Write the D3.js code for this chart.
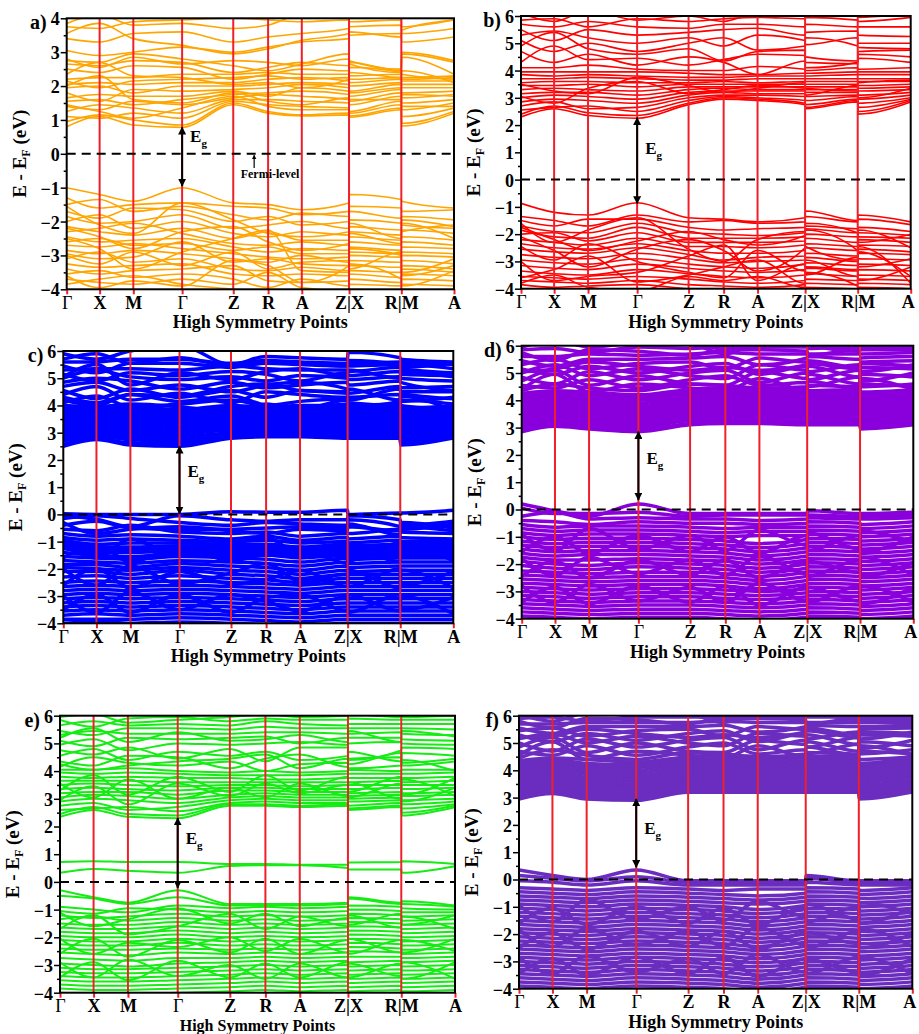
<!DOCTYPE html>
<html>
<head>
<meta charset="utf-8">
<script src="https://cdn.jsdelivr.net/npm/d3@7"></script>
<style>
  body { margin: 0; background: #fff; }
  svg { display: block; }
  text { font-family: "Liberation Serif", "Times New Roman", serif; font-weight: bold; fill: #000; }
</style>
</head>
<body>
<svg></svg>
<script>
// k-path: Γ X M Γ Z R A Z|X R|M A  (band values are given at 12 points: Γ X M Γ Z R A Z X R M A)
const kLabels = ["Γ", "X", "M", "Γ", "Z", "R", "A", "Z|X", "R|M", "A"];
const kTicks = [0, 0.085, 0.172, 0.298, 0.430, 0.520, 0.607, 0.729, 0.864, 1];
const kPath = [0, 0.085, 0.172, 0.298, 0.430, 0.520, 0.607, 0.729, 0.729, 0.864, 0.864, 1];

// a) orange
const aCond = [
  [0.80, 1.10, 0.85, 0.78, 1.45, 1.20, 1.12, 1.15, 1.08, 1.30, 0.82, 1.20],
  [0.95, 1.15, 1.00, 0.85, 1.50, 1.25, 1.15, 1.20, 1.12, 1.35, 0.90, 1.25],
  [1.10, 1.05, 1.20, 1.05, 1.55, 1.45, 1.40, 1.35, 1.25, 1.55, 1.10, 1.35],
  [1.25, 1.45, 1.35, 1.20, 1.60, 1.60, 1.55, 1.50, 1.45, 1.70, 1.30, 1.50],
  [1.40, 1.30, 1.55, 1.45, 1.65, 1.75, 1.70, 1.60, 1.55, 1.80, 1.50, 1.60],
  [1.55, 1.60, 1.45, 1.60, 1.75, 1.80, 1.85, 1.75, 1.70, 1.90, 1.65, 1.75],
  [1.65, 1.75, 1.70, 1.70, 1.85, 1.70, 1.95, 1.85, 1.80, 1.95, 1.80, 1.85],
  [1.80, 1.55, 1.90, 1.85, 1.90, 1.95, 2.05, 1.95, 1.85, 2.05, 1.95, 1.95],
  [1.95, 2.00, 1.80, 2.00, 2.00, 2.05, 2.10, 2.05, 2.00, 2.10, 2.05, 2.05],
  [2.05, 2.10, 2.05, 2.10, 2.10, 2.20, 2.25, 2.15, 2.10, 2.20, 2.15, 2.15],
  [2.15, 1.95, 2.15, 2.20, 2.25, 2.30, 2.20, 2.25, 2.20, 2.25, 2.20, 2.25],
  [2.20, 2.25, 2.25, 2.35, 2.35, 2.40, 2.35, 2.35, 2.30, 2.35, 2.25, 2.30],
  [2.50, 2.40, 2.60, 2.55, 2.20, 2.35, 2.50, 2.45, 2.55, 2.40, 2.35, 2.20],
  [2.65, 2.60, 2.75, 2.70, 2.40, 2.55, 2.70, 2.60, 2.70, 2.45, 2.95, 2.70],
  [2.75, 2.70, 2.95, 2.80, 2.60, 2.45, 2.65, 2.95, 2.75, 2.50, 3.00, 2.75],
  [2.80, 2.55, 2.85, 2.65, 2.75, 2.70, 2.60, 2.80, 2.65, 2.40, 2.85, 2.35],
  [3.05, 2.90, 3.00, 3.15, 3.00, 3.15, 3.30, 3.40, 3.50, 3.55, 3.30, 3.45],
  [3.40, 3.30, 3.55, 3.60, 3.30, 3.45, 3.55, 3.70, 3.75, 3.80, 3.55, 3.70],
  [3.55, 3.85, 3.40, 3.20, 2.95, 3.10, 3.35, 3.55, 3.60, 3.45, 3.65, 3.95],
  [3.75, 3.70, 3.90, 3.95, 4.00, 3.95, 3.90, 3.95, 3.90, 3.95, 3.75, 3.95],
  [3.85, 4.10, 3.80, 3.85, 3.70, 3.80, 4.10, 4.10, 4.05, 4.10, 4.00, 4.10],
  [1.45, 1.25, 1.05, 1.35, 1.70, 1.40, 1.30, 1.30, 1.20, 1.45, 1.40, 1.40],
  [2.00, 2.30, 1.60, 1.50, 1.80, 1.55, 1.45, 1.65, 1.60, 1.60, 1.75, 1.70],
  [2.35, 2.70, 2.30, 2.25, 2.05, 2.10, 1.95, 2.20, 2.40, 2.25, 2.45, 2.10]
];
const aVal = [
  [-1.00, -1.20, -1.40, -1.00, -1.45, -1.50, -1.65, -1.45, -1.20, -1.35, -1.40, -1.60],
  [-1.30, -1.60, -1.50, -1.45, -1.55, -1.60, -1.80, -1.70, -1.55, -1.60, -1.70, -1.65],
  [-1.50, -1.35, -1.70, -1.55, -1.80, -1.95, -1.75, -1.85, -1.70, -1.90, -1.85, -1.95],
  [-1.70, -1.90, -1.60, -1.65, -2.00, -1.85, -2.10, -2.00, -1.95, -2.05, -2.10, -2.20],
  [-1.85, -2.05, -2.00, -1.80, -2.20, -2.10, -2.00, -2.20, -2.15, -2.25, -1.95, -2.15],
  [-2.00, -1.80, -2.20, -2.00, -2.35, -2.45, -2.30, -2.40, -2.30, -2.40, -2.25, -2.35],
  [-2.15, -2.30, -2.40, -2.20, -2.50, -2.30, -2.55, -2.55, -2.45, -2.55, -2.45, -2.55],
  [-2.30, -2.20, -2.05, -2.35, -2.65, -2.70, -2.60, -2.70, -2.60, -2.70, -2.60, -2.70],
  [-2.45, -2.60, -2.55, -2.50, -2.75, -2.90, -2.80, -2.85, -2.75, -2.85, -2.75, -2.80],
  [-2.60, -2.50, -2.70, -2.65, -2.85, -2.75, -2.95, -2.95, -2.90, -2.95, -2.90, -2.95],
  [-2.70, -2.75, -2.65, -2.80, -2.95, -3.05, -3.10, -3.05, -3.00, -3.05, -3.00, -3.05],
  [-2.85, -2.95, -2.85, -2.95, -3.10, -3.20, -3.00, -3.20, -3.15, -3.20, -3.15, -3.25],
  [-2.95, -3.10, -3.05, -2.60, -3.20, -3.10, -3.25, -3.30, -3.30, -3.35, -3.30, -3.40],
  [-3.10, -2.90, -3.20, -3.10, -3.40, -3.45, -3.35, -3.45, -3.45, -3.50, -3.40, -3.50],
  [-3.25, -3.35, -3.30, -3.25, -3.55, -3.60, -3.55, -3.60, -3.55, -3.65, -3.55, -3.60],
  [-3.40, -3.55, -3.45, -3.40, -3.30, -3.75, -3.80, -3.75, -3.70, -3.80, -3.70, -3.75],
  [-3.55, -3.45, -3.65, -3.55, -3.70, -3.95, -3.70, -3.90, -3.85, -3.90, -3.85, -3.90],
  [-3.70, -3.80, -3.85, -3.70, -3.85, -3.50, -3.95, -4.05, -4.00, -4.05, -4.00, -4.10],
  [-3.85, -3.70, -3.60, -3.85, -4.00, -4.10, -4.20, -4.20, -4.10, -4.20, -4.15, -4.20],
  [-1.55, -2.10, -2.35, -1.45, -1.95, -2.35, -2.45, -2.30, -2.05, -2.50, -2.30, -2.10],
  [-2.20, -2.45, -2.80, -2.30, -2.15, -2.60, -2.85, -2.65, -2.35, -2.65, -2.05, -2.50],
  [-2.50, -2.80, -3.40, -2.90, -2.50, -2.25, -3.45, -3.50, -2.80, -3.00, -3.50, -3.10],
  [-3.00, -3.25, -2.90, -3.30, -2.90, -3.40, -3.20, -3.15, -3.40, -2.90, -3.60, -3.30],
  [-3.60, -3.95, -3.75, -3.90, -3.15, -3.30, -3.80, -3.30, -3.25, -3.70, -3.90, -3.45]
];

// b) red
const bCond = [
  [2.30, 2.60, 2.35, 2.25, 2.75, 2.95, 2.90, 2.75, 2.60, 2.85, 2.40, 2.85],
  [2.40, 2.70, 2.45, 2.35, 2.80, 3.00, 2.95, 2.80, 2.65, 2.90, 2.50, 2.90],
  [2.55, 2.65, 2.70, 2.50, 2.90, 3.05, 3.00, 2.90, 2.75, 2.95, 2.65, 2.95],
  [2.70, 2.85, 2.60, 2.65, 3.00, 3.10, 3.10, 3.05, 2.90, 3.05, 2.80, 3.00],
  [2.85, 2.95, 2.90, 2.80, 3.10, 3.20, 3.15, 3.15, 3.05, 3.10, 2.95, 3.10],
  [3.00, 3.10, 3.05, 2.95, 3.20, 3.25, 3.25, 3.25, 3.20, 3.20, 3.10, 3.20],
  [3.15, 3.20, 3.20, 3.10, 3.30, 3.35, 3.30, 3.30, 3.30, 3.30, 3.25, 3.30],
  [3.30, 3.35, 3.30, 3.25, 3.40, 3.40, 3.40, 3.40, 3.40, 3.40, 3.35, 3.40],
  [3.45, 3.45, 3.50, 3.40, 3.50, 3.50, 3.50, 3.50, 3.50, 3.50, 3.45, 3.50],
  [3.55, 3.60, 3.60, 3.55, 3.55, 3.60, 3.55, 3.60, 3.60, 3.60, 3.60, 3.60],
  [3.70, 3.70, 3.75, 3.70, 3.65, 3.65, 3.70, 3.70, 3.70, 3.70, 3.70, 3.70],
  [3.85, 3.80, 3.85, 3.80, 3.75, 3.75, 3.80, 3.80, 3.80, 3.85, 3.85, 3.85],
  [3.95, 3.95, 3.95, 3.95, 3.90, 3.85, 3.85, 3.90, 3.90, 3.95, 3.95, 3.95],
  [3.05, 2.80, 3.35, 3.60, 3.15, 3.30, 3.45, 3.35, 3.10, 3.45, 3.00, 3.35],
  [3.50, 3.25, 3.15, 3.75, 3.45, 3.20, 3.35, 3.55, 3.35, 3.25, 3.55, 3.65],
  [4.70, 4.30, 4.60, 4.20, 4.50, 4.30, 3.85, 4.35, 4.10, 4.30, 4.60, 4.50],
  [4.90, 5.40, 4.80, 4.60, 4.80, 4.35, 4.70, 4.75, 4.50, 4.35, 4.70, 4.75],
  [5.10, 4.70, 5.00, 4.70, 5.00, 5.20, 4.75, 4.90, 5.20, 4.90, 4.85, 4.80],
  [5.30, 5.45, 5.20, 5.00, 5.20, 4.90, 5.30, 5.10, 4.95, 5.20, 5.00, 5.00],
  [5.50, 5.10, 5.50, 5.30, 5.40, 5.50, 5.55, 5.30, 5.40, 5.45, 5.30, 5.25],
  [5.70, 5.60, 5.80, 5.60, 5.55, 5.70, 5.70, 5.60, 5.70, 5.60, 5.60, 5.60],
  [5.85, 5.90, 5.60, 5.90, 5.80, 5.90, 5.95, 5.90, 5.95, 5.85, 5.80, 5.95],
  [4.30, 4.90, 4.40, 4.45, 4.20, 4.40, 4.60, 4.55, 4.30, 4.25, 4.45, 4.30],
  [6.10, 5.80, 6.20, 5.85, 6.00, 5.80, 6.10, 6.10, 6.00, 6.10, 5.95, 6.10],
  [4.10, 4.10, 4.20, 4.05, 4.00, 4.00, 4.15, 4.05, 4.00, 4.10, 4.05, 4.10]
];
const bVal = [
  [-0.87, -1.20, -1.30, -0.85, -1.40, -1.45, -1.55, -1.40, -1.15, -1.50, -1.30, -1.55],
  [-1.35, -1.50, -1.70, -1.30, -1.55, -1.50, -1.60, -1.55, -1.35, -1.55, -1.45, -1.65],
  [-1.50, -1.70, -1.45, -1.45, -1.75, -1.85, -1.80, -1.75, -1.70, -1.80, -1.75, -1.90],
  [-1.70, -1.90, -1.95, -1.60, -1.95, -2.00, -2.05, -1.95, -1.80, -1.95, -1.95, -2.05],
  [-1.85, -2.10, -2.15, -1.75, -2.15, -2.15, -2.15, -2.10, -2.00, -2.10, -2.10, -2.15],
  [-2.00, -1.95, -2.25, -1.95, -2.30, -2.30, -2.30, -2.25, -2.15, -2.30, -2.20, -2.30],
  [-2.20, -2.30, -2.40, -2.15, -2.45, -2.45, -2.50, -2.40, -2.35, -2.45, -2.40, -2.45],
  [-2.35, -2.50, -2.55, -2.35, -2.60, -2.70, -2.70, -2.60, -2.50, -2.60, -2.55, -2.65],
  [-2.55, -2.65, -2.70, -2.50, -2.75, -2.95, -2.85, -2.80, -2.70, -2.80, -2.70, -2.75],
  [-2.75, -2.85, -2.90, -2.70, -2.90, -3.05, -3.00, -2.95, -2.85, -3.00, -2.90, -2.95],
  [-2.95, -3.05, -3.10, -2.90, -3.10, -3.20, -3.25, -3.10, -3.05, -3.15, -3.10, -3.15],
  [-3.15, -3.25, -3.30, -3.10, -3.25, -3.35, -3.40, -3.30, -3.25, -3.35, -3.30, -3.35],
  [-3.35, -3.45, -3.50, -3.30, -3.45, -3.55, -3.60, -3.50, -3.45, -3.55, -3.50, -3.55],
  [-3.55, -3.60, -3.65, -3.55, -3.65, -3.75, -3.80, -3.70, -3.65, -3.70, -3.65, -3.70],
  [-3.70, -3.75, -3.80, -3.70, -3.85, -3.90, -3.95, -3.85, -3.80, -3.85, -3.80, -3.85],
  [-3.85, -3.95, -3.90, -3.85, -4.00, -4.05, -4.10, -4.00, -3.95, -4.00, -3.95, -4.00],
  [-1.60, -2.30, -1.85, -1.40, -2.55, -3.00, -2.20, -1.90, -2.45, -2.95, -1.85, -2.50],
  [-2.10, -2.60, -3.20, -2.55, -2.20, -2.60, -3.35, -2.50, -1.85, -2.60, -3.20, -2.90],
  [-2.45, -2.95, -2.35, -3.00, -3.40, -3.60, -2.60, -3.35, -2.95, -3.55, -2.65, -3.55],
  [-3.00, -3.70, -3.55, -3.40, -2.80, -2.40, -3.70, -3.10, -3.50, -2.85, -3.70, -3.20],
  [-3.60, -3.30, -2.80, -3.75, -3.50, -3.20, -2.95, -3.80, -3.20, -3.30, -2.45, -3.80],
  [-1.75, -2.20, -2.60, -2.25, -1.90, -2.20, -2.40, -2.05, -1.60, -1.95, -2.30, -2.00],
  [-3.80, -3.50, -3.95, -4.10, -3.55, -3.70, -3.55, -3.95, -3.40, -3.90, -3.95, -4.10]
];

// c) blue
const cCond = [
  [2.50, 2.75, 2.55, 2.50, 2.80, 2.85, 2.85, 2.80, 2.80, 2.80, 2.55, 2.80],
  [2.58, 2.80, 2.62, 2.58, 2.85, 2.90, 2.90, 2.85, 2.85, 2.85, 2.62, 2.85],
  [2.70, 2.85, 2.75, 2.65, 2.90, 2.95, 2.95, 2.90, 2.90, 2.90, 2.70, 2.90],
  [2.80, 2.90, 2.85, 2.75, 2.95, 3.00, 3.00, 2.95, 2.95, 2.95, 2.80, 2.95],
  [2.90, 3.00, 2.95, 2.85, 3.00, 3.05, 3.05, 3.00, 3.00, 3.05, 2.90, 3.00],
  [3.00, 3.10, 3.05, 2.95, 3.10, 3.10, 3.15, 3.10, 3.10, 3.10, 3.00, 3.10],
  [3.10, 3.20, 3.15, 3.05, 3.20, 3.20, 3.20, 3.20, 3.15, 3.20, 3.10, 3.20],
  [3.20, 3.30, 3.25, 3.15, 3.30, 3.30, 3.30, 3.30, 3.25, 3.30, 3.20, 3.30],
  [3.30, 3.35, 3.35, 3.25, 3.40, 3.35, 3.40, 3.40, 3.35, 3.40, 3.30, 3.40],
  [3.40, 3.45, 3.45, 3.35, 3.50, 3.45, 3.50, 3.50, 3.45, 3.50, 3.40, 3.50],
  [3.50, 3.55, 3.55, 3.45, 3.60, 3.55, 3.60, 3.60, 3.55, 3.60, 3.50, 3.60],
  [3.60, 3.65, 3.65, 3.55, 3.70, 3.65, 3.70, 3.70, 3.65, 3.70, 3.60, 3.70],
  [3.70, 3.75, 3.75, 3.65, 3.80, 3.75, 3.80, 3.80, 3.75, 3.80, 3.70, 3.80],
  [3.80, 3.85, 3.85, 3.75, 3.90, 3.85, 3.90, 3.90, 3.85, 3.90, 3.80, 3.90],
  [3.90, 3.95, 3.95, 3.85, 4.00, 3.95, 4.00, 4.00, 3.95, 4.00, 3.90, 4.00],
  [4.00, 3.95, 4.05, 3.95, 3.75, 4.05, 3.85, 4.05, 4.00, 4.05, 4.00, 3.85],
  [2.95, 3.40, 2.70, 3.50, 3.05, 3.60, 3.25, 3.45, 3.10, 3.55, 3.20, 3.40],
  [3.55, 3.05, 3.60, 2.90, 3.55, 3.05, 3.70, 3.10, 3.50, 2.95, 3.55, 3.15],
  [3.25, 3.70, 3.10, 3.75, 3.20, 3.80, 3.10, 3.75, 3.20, 3.75, 3.05, 3.65],
  [4.20, 4.00, 4.40, 4.15, 4.35, 4.00, 3.85, 4.20, 3.95, 4.15, 4.35, 3.80],
  [4.40, 4.70, 4.20, 4.45, 4.10, 4.50, 4.40, 4.30, 4.30, 4.40, 4.15, 4.30],
  [4.55, 4.25, 4.60, 4.30, 4.55, 4.30, 4.55, 4.45, 4.60, 4.20, 4.50, 4.50],
  [4.70, 4.85, 4.55, 4.75, 4.50, 4.75, 4.85, 4.60, 4.45, 4.70, 4.65, 4.70],
  [4.85, 5.00, 4.90, 4.60, 4.85, 4.65, 4.75, 4.85, 4.75, 4.90, 4.85, 4.55],
  [5.00, 5.30, 5.05, 4.95, 5.05, 4.90, 5.10, 5.00, 4.95, 5.05, 5.00, 4.90],
  [5.15, 4.90, 5.20, 5.10, 5.25, 5.15, 4.90, 5.20, 5.10, 5.25, 5.15, 5.10],
  [5.30, 5.35, 5.35, 5.30, 5.45, 5.35, 5.30, 5.30, 5.25, 5.40, 5.35, 5.20],
  [5.45, 5.20, 5.55, 5.55, 5.40, 5.55, 5.50, 5.45, 5.45, 5.50, 5.50, 5.35],
  [5.60, 5.60, 5.70, 5.70, 5.55, 5.65, 5.60, 5.55, 5.55, 5.60, 5.60, 5.50],
  [5.70, 5.90, 5.55, 5.75, 5.45, 5.60, 5.55, 5.45, 5.65, 5.50, 5.40, 5.55],
  [5.90, 5.70, 6.00, 6.20, 5.50, 5.80, 5.75, 5.70, 5.95, 5.75, 5.70, 5.60],
  [4.10, 4.35, 3.95, 4.05, 4.20, 4.00, 4.15, 4.25, 4.10, 4.00, 4.20, 4.05],
  [4.30, 4.10, 4.40, 4.35, 4.70, 4.80, 4.55, 4.50, 4.20, 4.60, 4.45, 4.25],
  [5.05, 5.50, 4.75, 5.20, 4.95, 5.25, 5.35, 5.10, 5.30, 5.00, 5.25, 5.05]
];
const cVal = [
  [0.02, 0.00, 0.00, 0.00, 0.10, 0.08, 0.08, 0.15, 0.00, 0.05, 0.05, 0.15],
  [-0.05, -0.18, -0.45, -0.05, -0.20, -0.25, -0.20, -0.20, -0.05, -0.20, -0.40, -0.25],
  [-0.15, -0.05, -0.15, -0.30, -0.40, -0.30, -0.35, -0.40, -0.20, -0.45, -0.55, -0.35],
  [-0.40, -0.25, -0.50, -0.55, -0.55, -0.50, -0.45, -0.50, -0.45, -0.60, -0.30, -0.50],
  [-0.55, -0.60, -0.40, -0.65, -0.70, -0.65, -0.80, -0.70, -0.70, -0.55, -0.65, -0.70],
  [-0.70, -0.80, -0.75, -0.80, -0.90, -0.80, -0.95, -0.85, -0.90, -0.80, -0.85, -0.90],
  [-0.85, -0.95, -0.90, -0.95, -1.00, -0.95, -1.05, -1.00, -1.05, -0.95, -1.00, -1.00],
  [-0.95, -1.10, -1.05, -1.05, -1.10, -1.10, -1.20, -1.10, -1.15, -1.10, -1.10, -1.10],
  [-1.05, -1.20, -1.20, -1.15, -1.20, -1.20, -1.30, -1.20, -1.25, -1.20, -1.20, -1.20],
  [-1.15, -1.30, -1.30, -1.25, -1.30, -1.30, -1.40, -1.30, -1.35, -1.30, -1.30, -1.30],
  [-1.25, -1.40, -1.40, -1.35, -1.40, -1.40, -1.50, -1.40, -1.45, -1.40, -1.40, -1.40],
  [-1.40, -1.50, -1.55, -1.45, -1.50, -1.50, -1.60, -1.50, -1.55, -1.50, -1.50, -1.50],
  [-1.55, -1.60, -1.65, -1.55, -1.60, -1.65, -1.75, -1.60, -1.65, -1.60, -1.60, -1.60],
  [-1.70, -1.75, -1.80, -1.70, -1.75, -1.80, -1.90, -1.75, -1.80, -1.75, -1.75, -1.75],
  [-1.85, -1.85, -1.95, -1.80, -1.90, -1.95, -2.05, -1.90, -1.95, -1.90, -1.90, -1.90],
  [-1.95, -2.00, -2.05, -1.95, -2.05, -2.10, -2.20, -2.05, -2.10, -2.05, -2.05, -2.05],
  [-2.10, -2.10, -2.20, -2.05, -2.20, -2.25, -2.35, -2.20, -2.20, -2.20, -2.20, -2.20],
  [-2.30, -2.25, -2.35, -2.25, -2.35, -2.40, -2.50, -2.35, -2.35, -2.35, -2.35, -2.35],
  [-2.50, -2.45, -2.50, -2.45, -2.50, -2.55, -2.60, -2.50, -2.50, -2.50, -2.50, -2.50],
  [-2.65, -2.60, -2.65, -2.60, -2.65, -2.70, -2.75, -2.65, -2.65, -2.65, -2.65, -2.65],
  [-2.80, -2.75, -2.80, -2.75, -2.80, -2.85, -2.90, -2.80, -2.80, -2.80, -2.80, -2.80],
  [-2.95, -2.90, -2.95, -2.90, -2.95, -3.00, -3.05, -2.95, -2.95, -2.95, -2.95, -2.95],
  [-3.10, -3.05, -3.10, -3.05, -3.10, -3.15, -3.20, -3.10, -3.10, -3.10, -3.10, -3.10],
  [-3.25, -3.20, -3.25, -3.20, -3.25, -3.30, -3.35, -3.25, -3.25, -3.25, -3.25, -3.25],
  [-3.40, -3.35, -3.40, -3.35, -3.40, -3.45, -3.50, -3.40, -3.40, -3.40, -3.40, -3.40],
  [-3.55, -3.50, -3.55, -3.50, -3.55, -3.60, -3.65, -3.55, -3.55, -3.55, -3.55, -3.55],
  [-3.70, -3.65, -3.70, -3.65, -3.70, -3.75, -3.80, -3.70, -3.70, -3.70, -3.70, -3.70],
  [-3.85, -3.85, -3.85, -3.80, -3.85, -3.90, -3.95, -3.85, -3.85, -3.85, -3.85, -3.85],
  [-4.00, -3.95, -4.00, -3.95, -4.00, -4.05, -4.10, -4.00, -4.00, -4.00, -4.00, -4.00],
  [-1.00, -1.60, -0.90, -1.55, -1.10, -0.85, -1.45, -1.15, -1.70, -1.05, -1.55, -0.95],
  [-1.60, -1.10, -1.75, -1.20, -1.70, -1.45, -1.20, -1.80, -1.15, -1.75, -1.15, -1.70],
  [-2.00, -2.60, -1.90, -2.55, -2.15, -1.80, -2.45, -2.20, -2.65, -2.00, -2.60, -2.10],
  [-2.60, -2.00, -2.70, -2.10, -2.55, -2.40, -2.05, -2.65, -2.05, -2.70, -2.05, -2.70],
  [-3.00, -3.60, -2.85, -3.50, -2.95, -3.20, -3.55, -3.00, -3.60, -2.95, -3.50, -3.05],
  [-3.50, -2.95, -3.60, -2.95, -3.60, -3.05, -2.95, -3.55, -2.95, -3.55, -3.00, -3.65],
  [-0.30, -0.70, -0.55, -0.45, -0.60, -0.70, -0.55, -0.60, -0.35, -0.75, -0.45, -0.60]
];

// d) violet
const dCond = [
  [2.85, 3.05, 2.95, 2.85, 3.10, 3.15, 3.15, 3.10, 3.10, 3.10, 2.95, 3.10],
  [2.95, 3.10, 3.00, 2.92, 3.15, 3.20, 3.20, 3.15, 3.15, 3.15, 3.02, 3.15],
  [3.05, 3.20, 3.10, 3.00, 3.25, 3.25, 3.25, 3.25, 3.20, 3.25, 3.10, 3.25],
  [3.15, 3.30, 3.20, 3.10, 3.35, 3.35, 3.35, 3.35, 3.30, 3.35, 3.20, 3.35],
  [3.25, 3.40, 3.30, 3.20, 3.45, 3.45, 3.45, 3.45, 3.40, 3.45, 3.30, 3.45],
  [3.35, 3.50, 3.40, 3.30, 3.55, 3.55, 3.55, 3.55, 3.50, 3.55, 3.40, 3.55],
  [3.45, 3.60, 3.50, 3.40, 3.65, 3.65, 3.65, 3.65, 3.60, 3.65, 3.50, 3.65],
  [3.55, 3.70, 3.60, 3.50, 3.75, 3.75, 3.75, 3.75, 3.70, 3.75, 3.60, 3.75],
  [3.65, 3.80, 3.70, 3.60, 3.85, 3.85, 3.85, 3.85, 3.80, 3.85, 3.70, 3.85],
  [3.75, 3.90, 3.80, 3.70, 3.95, 3.95, 3.95, 3.95, 3.90, 3.95, 3.80, 3.95],
  [3.85, 4.00, 3.90, 3.80, 4.05, 4.05, 4.05, 4.05, 4.00, 4.05, 3.90, 4.05],
  [3.95, 4.10, 4.00, 3.90, 4.15, 4.15, 4.15, 4.15, 4.10, 4.15, 4.00, 4.15],
  [4.05, 4.20, 4.10, 4.00, 4.25, 4.25, 4.25, 4.25, 4.20, 4.25, 4.10, 4.25],
  [4.15, 4.30, 4.20, 4.10, 4.30, 4.35, 4.35, 4.30, 4.30, 4.35, 4.20, 4.35],
  [4.25, 4.35, 4.30, 4.20, 4.40, 4.45, 4.40, 4.40, 4.35, 4.40, 4.30, 4.40],
  [3.30, 3.80, 3.10, 3.85, 3.35, 3.90, 3.40, 3.80, 3.35, 3.90, 3.25, 3.80],
  [3.90, 3.40, 3.95, 3.25, 3.90, 3.40, 4.00, 3.45, 3.95, 3.30, 3.95, 3.40],
  [3.60, 4.15, 3.50, 4.10, 3.55, 4.20, 3.60, 4.20, 3.55, 4.10, 3.45, 4.20],
  [4.40, 4.95, 4.30, 4.60, 4.45, 4.35, 4.80, 4.35, 4.70, 4.40, 4.80, 4.40],
  [4.55, 4.45, 4.75, 4.45, 4.75, 4.90, 4.55, 4.65, 4.50, 4.85, 4.50, 4.60],
  [4.70, 5.10, 4.55, 4.90, 4.60, 4.55, 5.05, 4.80, 4.95, 4.60, 4.95, 4.85],
  [4.85, 4.60, 5.05, 4.75, 5.00, 5.10, 4.65, 5.00, 4.75, 5.10, 4.70, 5.00],
  [5.00, 5.30, 4.90, 5.15, 4.90, 4.80, 5.30, 5.10, 5.25, 4.85, 5.20, 5.15],
  [5.15, 4.95, 5.25, 5.00, 5.25, 5.35, 4.95, 5.25, 5.05, 5.30, 5.05, 5.30],
  [5.30, 5.50, 5.15, 5.35, 5.40, 5.15, 5.55, 5.40, 5.45, 5.20, 5.40, 5.45],
  [5.45, 5.25, 5.50, 5.50, 5.55, 5.60, 5.30, 5.55, 5.60, 5.50, 5.55, 5.60],
  [5.60, 5.60, 5.70, 5.65, 5.70, 5.75, 5.70, 5.70, 5.70, 5.70, 5.70, 5.75],
  [5.75, 5.45, 5.85, 5.80, 5.65, 5.85, 5.85, 5.80, 5.65, 5.85, 5.85, 5.85],
  [5.85, 5.90, 5.75, 5.95, 5.90, 5.95, 5.95, 5.95, 5.90, 5.95, 5.95, 5.95],
  [5.95, 6.20, 5.95, 6.10, 6.05, 5.70, 6.10, 6.10, 6.05, 5.80, 6.10, 6.10],
  [4.35, 4.60, 4.45, 4.35, 4.60, 4.55, 4.45, 4.50, 4.55, 4.50, 4.60, 4.50],
  [5.05, 5.15, 5.40, 5.25, 5.10, 5.20, 5.10, 5.30, 5.35, 5.15, 5.35, 5.25]
];
const dVal = [
  [0.20, -0.05, -0.25, 0.20, -0.15, -0.15, -0.15, -0.15, -0.05, -0.15, -0.15, -0.10],
  [0.05, -0.15, -0.15, -0.10, -0.25, -0.20, -0.20, -0.20, -0.20, -0.25, -0.25, -0.20],
  [-0.25, -0.10, -0.35, -0.30, -0.35, -0.35, -0.40, -0.35, -0.30, -0.35, -0.35, -0.30],
  [-0.40, -0.45, -0.55, -0.45, -0.50, -0.50, -0.55, -0.50, -0.45, -0.50, -0.55, -0.45],
  [-0.55, -0.65, -0.60, -0.60, -0.65, -0.70, -0.65, -0.65, -0.60, -0.65, -0.70, -0.60],
  [-0.70, -0.80, -0.75, -0.75, -0.80, -0.85, -0.80, -0.80, -0.75, -0.80, -0.85, -0.75],
  [-0.85, -0.95, -0.90, -0.90, -0.95, -1.00, -0.95, -0.95, -0.90, -0.95, -1.00, -0.90],
  [-1.00, -1.10, -1.05, -1.05, -1.10, -1.15, -1.25, -1.10, -1.05, -1.10, -1.15, -1.05],
  [-1.15, -1.25, -1.20, -1.20, -1.25, -1.30, -1.40, -1.25, -1.20, -1.25, -1.30, -1.20],
  [-1.30, -1.40, -1.35, -1.35, -1.40, -1.45, -1.55, -1.40, -1.35, -1.40, -1.45, -1.35],
  [-1.45, -1.55, -1.50, -1.50, -1.55, -1.60, -1.70, -1.55, -1.50, -1.55, -1.60, -1.50],
  [-1.60, -1.70, -1.65, -1.65, -1.70, -1.75, -1.85, -1.70, -1.65, -1.70, -1.75, -1.65],
  [-1.75, -1.85, -1.85, -1.80, -1.85, -1.90, -2.00, -1.85, -1.80, -1.85, -1.90, -1.80],
  [-1.90, -2.00, -2.05, -1.95, -2.00, -2.05, -2.15, -2.00, -1.95, -2.00, -2.05, -1.95],
  [-2.05, -2.15, -2.20, -2.10, -2.15, -2.20, -2.30, -2.15, -2.10, -2.15, -2.20, -2.10],
  [-2.25, -2.30, -2.35, -2.30, -2.30, -2.35, -2.45, -2.30, -2.25, -2.30, -2.35, -2.25],
  [-2.40, -2.45, -2.50, -2.45, -2.45, -2.50, -2.60, -2.45, -2.40, -2.45, -2.50, -2.40],
  [-2.55, -2.60, -2.65, -2.60, -2.60, -2.65, -2.75, -2.60, -2.55, -2.60, -2.65, -2.55],
  [-2.70, -2.75, -2.80, -2.75, -2.75, -2.80, -2.90, -2.75, -2.70, -2.75, -2.80, -2.70],
  [-2.85, -2.90, -2.95, -2.90, -2.90, -2.95, -3.00, -2.90, -2.85, -2.90, -2.95, -2.85],
  [-3.00, -3.05, -3.10, -3.05, -3.05, -3.10, -3.15, -3.05, -3.00, -3.05, -3.10, -3.00],
  [-3.15, -3.20, -3.25, -3.20, -3.20, -3.25, -3.30, -3.20, -3.15, -3.20, -3.25, -3.15],
  [-3.30, -3.35, -3.40, -3.35, -3.35, -3.40, -3.45, -3.35, -3.30, -3.35, -3.40, -3.30],
  [-3.45, -3.50, -3.55, -3.50, -3.50, -3.55, -3.60, -3.50, -3.45, -3.50, -3.55, -3.45],
  [-3.60, -3.65, -3.70, -3.65, -3.65, -3.70, -3.75, -3.65, -3.60, -3.65, -3.70, -3.60],
  [-3.75, -3.80, -3.85, -3.80, -3.80, -3.85, -3.90, -3.80, -3.75, -3.80, -3.85, -3.75],
  [-3.90, -3.95, -4.00, -3.95, -3.95, -4.00, -4.05, -3.95, -3.90, -3.95, -4.00, -3.90],
  [-0.90, -1.50, -0.70, -1.45, -0.95, -1.50, -0.75, -1.30, -0.85, -1.45, -0.80, -1.20],
  [-1.55, -1.00, -1.60, -0.95, -1.55, -1.00, -1.60, -0.95, -1.50, -0.95, -1.55, -1.00],
  [-1.80, -2.40, -1.75, -2.35, -1.85, -2.40, -1.70, -2.35, -1.90, -2.30, -1.75, -2.40],
  [-2.45, -1.90, -2.50, -1.85, -2.40, -1.85, -2.50, -1.90, -2.45, -1.85, -2.45, -1.95],
  [-2.80, -3.40, -2.75, -3.35, -2.85, -3.40, -2.70, -3.35, -2.85, -3.35, -2.80, -3.40],
  [-3.40, -2.85, -3.45, -2.80, -3.40, -2.80, -3.50, -2.85, -3.40, -2.80, -3.45, -2.85]
];

// e) green
const eCond = [
  [2.35, 2.60, 2.35, 2.30, 2.75, 2.75, 2.70, 2.75, 2.60, 2.70, 2.40, 2.70],
  [2.45, 2.70, 2.45, 2.40, 2.80, 2.80, 2.75, 2.80, 2.65, 2.75, 2.50, 2.75],
  [2.60, 2.65, 2.70, 2.55, 2.85, 2.90, 2.85, 2.85, 2.75, 2.85, 2.65, 2.80],
  [2.75, 2.85, 2.60, 2.70, 2.95, 3.00, 2.95, 2.95, 2.90, 2.95, 2.80, 2.90],
  [2.90, 3.00, 2.95, 2.85, 3.05, 3.10, 3.05, 3.05, 3.00, 3.05, 2.95, 3.00],
  [3.05, 3.15, 3.10, 3.00, 3.15, 3.20, 3.15, 3.15, 3.10, 3.15, 3.10, 3.15],
  [3.20, 3.25, 3.25, 3.15, 3.30, 3.30, 3.25, 3.25, 3.20, 3.25, 3.20, 3.25],
  [3.35, 3.40, 3.35, 3.30, 3.40, 3.40, 3.35, 3.35, 3.35, 3.40, 3.35, 3.40],
  [3.50, 3.55, 3.50, 3.45, 3.50, 3.50, 3.45, 3.50, 3.50, 3.50, 3.50, 3.50],
  [3.65, 3.65, 3.65, 3.60, 3.60, 3.60, 3.60, 3.60, 3.60, 3.65, 3.60, 3.65],
  [3.80, 3.75, 3.80, 3.75, 3.75, 3.70, 3.70, 3.75, 3.75, 3.75, 3.75, 3.80],
  [3.95, 3.90, 3.95, 3.90, 3.85, 3.85, 3.85, 3.90, 3.90, 3.90, 3.90, 3.95],
  [4.05, 4.05, 4.10, 4.00, 3.95, 4.00, 3.95, 4.00, 4.05, 4.00, 4.05, 4.05],
  [2.95, 3.45, 2.80, 3.55, 3.10, 3.55, 3.20, 3.50, 3.05, 3.55, 2.90, 3.40],
  [3.55, 3.05, 3.70, 3.00, 3.40, 3.05, 3.55, 3.10, 3.60, 3.00, 3.70, 3.10],
  [3.30, 3.85, 3.15, 3.80, 3.25, 3.85, 3.30, 3.80, 3.25, 3.80, 3.15, 3.75],
  [4.15, 4.50, 4.30, 4.20, 4.35, 4.00, 4.25, 4.30, 4.10, 4.20, 4.40, 4.00],
  [4.35, 4.20, 4.55, 4.50, 4.10, 4.45, 4.60, 4.15, 4.45, 4.50, 4.20, 4.35],
  [4.55, 4.80, 4.40, 4.70, 4.55, 4.70, 4.40, 4.55, 4.70, 4.35, 4.65, 4.55],
  [4.75, 4.60, 4.85, 4.45, 4.80, 4.35, 4.85, 4.85, 4.40, 4.75, 4.85, 4.80],
  [4.95, 5.15, 4.75, 5.00, 4.95, 5.00, 5.05, 4.95, 5.00, 5.05, 5.00, 4.95],
  [5.10, 4.90, 5.20, 5.15, 5.20, 5.25, 5.00, 5.20, 5.20, 5.20, 5.15, 5.10],
  [5.30, 5.45, 5.35, 5.35, 5.35, 5.40, 5.40, 5.35, 5.35, 5.40, 5.35, 5.30],
  [5.45, 5.30, 5.55, 5.55, 5.50, 5.60, 5.55, 5.55, 5.55, 5.55, 5.55, 5.50],
  [5.65, 5.80, 5.65, 5.70, 5.65, 5.80, 5.70, 5.65, 5.70, 5.70, 5.70, 5.70],
  [5.85, 5.60, 5.90, 5.95, 5.80, 5.90, 5.85, 5.85, 5.90, 5.85, 5.85, 5.85],
  [5.95, 6.05, 5.75, 5.85, 5.95, 6.05, 5.95, 6.00, 6.05, 5.95, 5.95, 6.00],
  [4.25, 4.05, 4.20, 4.35, 4.45, 4.60, 4.10, 4.45, 4.25, 4.65, 4.30, 4.45],
  [5.20, 5.55, 5.05, 5.40, 5.10, 5.15, 5.30, 5.05, 5.45, 5.05, 5.45, 5.25]
];
const eGap = [
  [0.72, 0.75, 0.72, 0.72, 0.65, 0.65, 0.62, 0.62, 0.70, 0.72, 0.75, 0.65],
  [0.33, 0.47, 0.40, 0.33, 0.57, 0.60, 0.60, 0.50, 0.45, 0.45, 0.33, 0.57]
];
const eVal = [
  [-0.30, -0.55, -0.75, -0.30, -0.80, -0.80, -0.80, -0.75, -0.55, -0.75, -0.70, -0.85],
  [-0.50, -0.60, -0.80, -0.55, -0.85, -0.85, -0.85, -0.80, -0.60, -0.80, -0.80, -0.90],
  [-0.90, -1.00, -1.10, -0.85, -0.95, -0.90, -0.95, -0.90, -0.85, -0.90, -0.95, -1.00],
  [-1.05, -1.15, -0.95, -1.00, -1.10, -1.05, -1.10, -1.05, -1.00, -1.05, -1.10, -1.10],
  [-1.20, -1.30, -1.25, -1.15, -1.25, -1.20, -1.25, -1.20, -1.15, -1.20, -1.25, -1.20],
  [-1.35, -1.25, -1.40, -1.30, -1.40, -1.35, -1.40, -1.35, -1.30, -1.35, -1.40, -1.35],
  [-1.50, -1.55, -1.55, -1.45, -1.55, -1.50, -1.55, -1.50, -1.45, -1.50, -1.55, -1.50],
  [-1.65, -1.70, -1.70, -1.60, -1.70, -1.65, -1.70, -1.65, -1.60, -1.65, -1.70, -1.65],
  [-1.80, -1.85, -1.85, -1.75, -1.85, -1.80, -1.85, -1.80, -1.75, -1.80, -1.85, -1.80],
  [-1.95, -2.00, -2.00, -1.90, -2.00, -1.95, -2.00, -1.95, -1.90, -1.95, -2.00, -1.95],
  [-2.10, -2.15, -2.15, -2.05, -2.15, -2.10, -2.15, -2.10, -2.05, -2.10, -2.15, -2.10],
  [-2.25, -2.30, -2.30, -2.20, -2.30, -2.25, -2.30, -2.25, -2.20, -2.25, -2.30, -2.25],
  [-2.40, -2.45, -2.45, -2.40, -2.45, -2.40, -2.45, -2.40, -2.35, -2.40, -2.45, -2.40],
  [-2.55, -2.60, -2.65, -2.55, -2.60, -2.55, -2.60, -2.55, -2.50, -2.55, -2.60, -2.55],
  [-2.75, -2.80, -2.85, -2.75, -2.75, -2.70, -2.75, -2.70, -2.70, -2.70, -2.75, -2.70],
  [-2.95, -3.00, -3.05, -2.95, -2.90, -2.85, -2.90, -2.85, -2.90, -2.85, -2.90, -2.85],
  [-3.10, -3.15, -3.15, -3.10, -3.05, -3.00, -3.05, -3.00, -3.05, -3.00, -3.05, -3.00],
  [-3.25, -3.30, -3.30, -3.25, -3.20, -3.15, -3.20, -3.15, -3.20, -3.15, -3.20, -3.15],
  [-3.40, -3.45, -3.45, -3.40, -3.35, -3.30, -3.35, -3.30, -3.35, -3.30, -3.35, -3.30],
  [-3.55, -3.60, -3.60, -3.55, -3.50, -3.45, -3.50, -3.45, -3.50, -3.45, -3.50, -3.45],
  [-3.70, -3.75, -3.75, -3.70, -3.65, -3.60, -3.65, -3.60, -3.65, -3.60, -3.65, -3.60],
  [-3.85, -3.90, -3.90, -3.85, -3.80, -3.75, -3.80, -3.75, -3.80, -3.75, -3.80, -3.75],
  [-4.00, -4.05, -4.05, -4.00, -3.95, -3.90, -3.95, -3.90, -3.95, -3.90, -3.95, -3.90],
  [-1.10, -1.60, -1.35, -0.95, -1.50, -1.15, -1.60, -1.30, -1.55, -1.15, -1.55, -1.20],
  [-1.70, -1.20, -1.90, -1.60, -1.15, -1.70, -1.25, -1.60, -1.20, -1.65, -1.25, -1.70],
  [-2.05, -2.60, -2.20, -2.35, -2.00, -2.50, -2.05, -2.55, -2.05, -2.55, -2.10, -2.50],
  [-2.60, -2.05, -2.70, -2.10, -2.55, -2.05, -2.60, -2.10, -2.60, -2.10, -2.55, -2.05],
  [-2.90, -3.45, -2.80, -3.40, -3.00, -3.50, -2.95, -3.45, -2.95, -3.40, -2.90, -3.50],
  [-3.45, -2.90, -3.55, -2.85, -3.45, -2.95, -3.45, -2.90, -3.45, -2.95, -3.50, -2.90]
];

// f) dark violet
const fCond = [
  [2.95, 3.15, 2.95, 2.90, 3.20, 3.20, 3.20, 3.20, 3.20, 3.20, 2.95, 3.20],
  [3.05, 3.20, 3.05, 3.00, 3.25, 3.25, 3.25, 3.25, 3.25, 3.25, 3.05, 3.25],
  [3.15, 3.30, 3.15, 3.10, 3.35, 3.35, 3.35, 3.35, 3.35, 3.35, 3.15, 3.35],
  [3.25, 3.40, 3.25, 3.20, 3.45, 3.45, 3.45, 3.45, 3.45, 3.45, 3.25, 3.45],
  [3.35, 3.50, 3.35, 3.30, 3.55, 3.55, 3.55, 3.55, 3.55, 3.55, 3.35, 3.55],
  [3.45, 3.60, 3.45, 3.40, 3.65, 3.65, 3.60, 3.65, 3.65, 3.65, 3.45, 3.65],
  [3.55, 3.70, 3.55, 3.50, 3.75, 3.75, 3.70, 3.75, 3.75, 3.75, 3.55, 3.75],
  [3.65, 3.80, 3.65, 3.60, 3.85, 3.85, 3.80, 3.85, 3.85, 3.85, 3.65, 3.85],
  [3.75, 3.90, 3.75, 3.70, 3.95, 3.95, 3.90, 3.95, 3.95, 3.95, 3.75, 3.95],
  [3.85, 4.00, 3.85, 3.80, 4.05, 4.05, 4.00, 4.05, 4.05, 4.05, 3.85, 4.05],
  [3.95, 4.10, 3.95, 3.90, 4.15, 4.15, 4.10, 4.15, 4.15, 4.15, 3.95, 4.15],
  [4.05, 4.20, 4.05, 4.00, 4.25, 4.25, 4.20, 4.25, 4.25, 4.25, 4.05, 4.25],
  [4.15, 4.30, 4.15, 4.10, 4.35, 4.35, 4.30, 4.35, 4.35, 4.35, 4.15, 4.35],
  [4.25, 4.40, 4.25, 4.20, 4.45, 4.45, 4.40, 4.45, 4.45, 4.45, 4.25, 4.45],
  [4.35, 4.45, 4.40, 4.30, 4.50, 4.55, 4.50, 4.50, 4.50, 4.55, 4.40, 4.50],
  [3.40, 3.90, 3.20, 3.95, 3.45, 3.95, 3.50, 3.90, 3.40, 3.95, 3.30, 3.90],
  [4.00, 3.45, 4.05, 3.35, 4.00, 3.50, 4.05, 3.50, 4.05, 3.40, 4.00, 3.45],
  [3.70, 4.25, 3.60, 4.20, 3.65, 4.30, 3.65, 4.25, 3.60, 4.25, 3.55, 4.30],
  [4.55, 5.05, 4.40, 4.70, 4.55, 4.45, 4.90, 4.50, 4.85, 4.55, 4.90, 4.55],
  [4.70, 4.55, 4.90, 4.55, 4.85, 5.00, 4.60, 4.75, 4.60, 4.95, 4.60, 4.75],
  [4.85, 5.20, 4.65, 5.00, 4.70, 4.65, 5.10, 4.95, 5.05, 4.70, 5.05, 4.90],
  [5.00, 4.70, 5.15, 4.85, 5.10, 5.20, 4.75, 5.10, 4.85, 5.20, 4.80, 5.10],
  [5.15, 5.35, 5.00, 5.25, 5.00, 4.90, 5.35, 5.25, 5.30, 4.95, 5.30, 5.25],
  [5.30, 5.05, 5.35, 5.10, 5.35, 5.45, 5.05, 5.35, 5.15, 5.40, 5.15, 5.40],
  [5.45, 5.55, 5.25, 5.45, 5.50, 5.25, 5.60, 5.50, 5.55, 5.30, 5.50, 5.55],
  [5.55, 5.35, 5.60, 5.60, 5.60, 5.65, 5.40, 5.60, 5.65, 5.60, 5.60, 5.65],
  [5.70, 5.70, 5.75, 5.75, 5.75, 5.80, 5.75, 5.75, 5.75, 5.75, 5.75, 5.75],
  [5.80, 5.55, 5.90, 5.85, 5.70, 5.90, 5.90, 5.85, 5.70, 5.90, 5.85, 5.85],
  [5.90, 5.95, 5.80, 5.95, 5.95, 5.95, 5.95, 5.95, 5.95, 5.95, 5.95, 5.95],
  [4.45, 4.75, 4.55, 4.40, 4.65, 4.60, 4.50, 4.60, 4.65, 4.60, 4.70, 4.60],
  [5.20, 5.25, 5.50, 5.35, 5.20, 5.30, 5.20, 5.40, 5.45, 5.20, 5.40, 5.35],
  [6.05, 5.80, 6.10, 6.10, 6.05, 5.75, 6.10, 6.05, 6.10, 5.85, 6.10, 6.05]
];
const fVal = [
  [0.35, 0.15, 0.00, 0.35, -0.05, -0.05, -0.05, -0.05, 0.15, -0.05, -0.05, -0.05],
  [0.15, 0.05, -0.05, 0.10, -0.10, -0.10, -0.10, -0.10, 0.05, -0.10, -0.10, -0.10],
  [-0.05, -0.10, -0.20, -0.05, -0.20, -0.20, -0.20, -0.20, -0.10, -0.20, -0.20, -0.20],
  [-0.30, -0.35, -0.40, -0.30, -0.35, -0.40, -0.35, -0.35, -0.30, -0.35, -0.40, -0.30],
  [-0.45, -0.50, -0.55, -0.45, -0.50, -0.55, -0.60, -0.50, -0.45, -0.50, -0.55, -0.45],
  [-0.60, -0.65, -0.70, -0.60, -0.65, -0.70, -0.75, -0.65, -0.60, -0.65, -0.70, -0.60],
  [-0.75, -0.80, -0.85, -0.75, -0.80, -0.85, -0.90, -0.80, -0.75, -0.80, -0.85, -0.75],
  [-0.90, -0.95, -1.00, -0.90, -0.95, -1.00, -1.10, -0.95, -0.90, -0.95, -1.00, -0.90],
  [-1.05, -1.10, -1.15, -1.05, -1.10, -1.15, -1.25, -1.10, -1.05, -1.10, -1.15, -1.05],
  [-1.20, -1.25, -1.30, -1.20, -1.25, -1.30, -1.40, -1.25, -1.20, -1.25, -1.30, -1.20],
  [-1.35, -1.40, -1.45, -1.35, -1.40, -1.45, -1.55, -1.40, -1.35, -1.40, -1.45, -1.35],
  [-1.50, -1.55, -1.60, -1.50, -1.55, -1.60, -1.70, -1.55, -1.50, -1.55, -1.60, -1.50],
  [-1.65, -1.70, -1.75, -1.65, -1.70, -1.75, -1.85, -1.70, -1.65, -1.70, -1.75, -1.65],
  [-1.80, -1.85, -1.90, -1.80, -1.85, -1.90, -2.00, -1.85, -1.80, -1.85, -1.90, -1.80],
  [-1.95, -2.00, -2.05, -1.95, -2.00, -2.05, -2.15, -2.00, -1.95, -2.00, -2.05, -1.95],
  [-2.10, -2.15, -2.20, -2.10, -2.15, -2.20, -2.30, -2.15, -2.10, -2.15, -2.20, -2.10],
  [-2.25, -2.30, -2.35, -2.25, -2.30, -2.35, -2.45, -2.30, -2.25, -2.30, -2.35, -2.25],
  [-2.40, -2.45, -2.50, -2.40, -2.45, -2.50, -2.60, -2.45, -2.40, -2.45, -2.50, -2.40],
  [-2.55, -2.60, -2.65, -2.55, -2.60, -2.65, -2.75, -2.60, -2.55, -2.60, -2.65, -2.55],
  [-2.70, -2.75, -2.80, -2.70, -2.75, -2.80, -2.90, -2.75, -2.70, -2.75, -2.80, -2.70],
  [-2.85, -2.90, -2.95, -2.85, -2.90, -2.95, -3.05, -2.90, -2.85, -2.90, -2.95, -2.85],
  [-3.00, -3.05, -3.10, -3.00, -3.05, -3.10, -3.20, -3.05, -3.00, -3.05, -3.10, -3.00],
  [-3.15, -3.20, -3.25, -3.15, -3.20, -3.25, -3.35, -3.20, -3.15, -3.20, -3.25, -3.15],
  [-3.30, -3.35, -3.40, -3.30, -3.35, -3.40, -3.50, -3.35, -3.30, -3.35, -3.40, -3.30],
  [-3.45, -3.50, -3.55, -3.45, -3.50, -3.55, -3.65, -3.50, -3.45, -3.50, -3.55, -3.45],
  [-3.60, -3.65, -3.70, -3.60, -3.65, -3.70, -3.80, -3.65, -3.60, -3.65, -3.70, -3.60],
  [-3.75, -3.80, -3.85, -3.75, -3.80, -3.85, -3.95, -3.80, -3.75, -3.80, -3.85, -3.75],
  [-3.90, -3.95, -4.00, -3.90, -3.95, -4.00, -4.10, -3.95, -3.90, -3.95, -4.00, -3.90],
  [-0.95, -1.55, -0.75, -1.45, -1.00, -1.50, -0.80, -1.35, -0.90, -1.45, -0.85, -1.25],
  [-1.60, -1.05, -1.65, -1.00, -1.60, -1.05, -1.65, -1.00, -1.55, -1.00, -1.60, -1.05],
  [-1.85, -2.45, -1.80, -2.40, -1.90, -2.45, -1.75, -2.40, -1.95, -2.35, -1.80, -2.45],
  [-2.50, -1.95, -2.55, -1.90, -2.45, -1.90, -2.55, -1.95, -2.50, -1.90, -2.50, -2.00],
  [-2.85, -3.45, -2.80, -3.40, -2.90, -3.45, -2.75, -3.40, -2.90, -3.40, -2.85, -3.45],
  [-3.45, -2.90, -3.50, -2.85, -3.45, -2.85, -3.55, -2.90, -3.45, -2.85, -3.50, -2.90]
];

// band gap arrow ends (eV) at the second Γ, and E_g label height
const egTop = [0.78, 2.27, 2.50, 2.85, 2.30, 2.95];
const egBottom = [-0.95, -0.87, 0.02, 0.35, -0.22, 0.45];
const egLabel = [0.35, 0.93, 1.38, 1.66, 1.37, 1.66];

const panels = [
  { tag: "a)", left: 66.7, right: 454, top: 18.3, bottom: 289.3, yDom: [-4, 4], color: "#ffa500", sw: 1.6, bands: aCond.concat(aVal) },
  { tag: "b)", left: 521, right: 910.7, top: 16, bottom: 288.7, yDom: [-4, 6], color: "#ff0000", sw: 1.6, bands: bCond.concat(bVal) },
  { tag: "c)", left: 63.3, right: 453.3, top: 351, bottom: 623.3, yDom: [-4, 6], color: "#0000ff", sw: 3.5, bands: cCond.concat(cVal) },
  { tag: "d)", left: 521.7, right: 913.3, top: 345.7, bottom: 618.7, yDom: [-4, 6], color: "#8a00dc", sw: 3.5, bands: dCond.concat(dVal) },
  { tag: "e)", left: 60, right: 455, top: 715.7, bottom: 992.7, yDom: [-4, 6], color: "#14ec14", sw: 2.0, bands: eCond.concat(eGap, eVal) },
  { tag: "f)", left: 519, right: 912.3, top: 715.7, bottom: 988.7, yDom: [-4, 6], color: "#6b2dbf", sw: 3.5, bands: fCond.concat(fVal) }
];

const redLine = "#f0202a";
const svg = d3.select("svg").attr("width", 919).attr("height", 1034);
const defs = svg.append("defs");
defs.append("marker")
  .attr("id", "head")
  .attr("viewBox", "0 0 10 10")
  .attr("refX", 9).attr("refY", 5)
  .attr("markerWidth", 4).attr("markerHeight", 4)
  .attr("orient", "auto-start-reverse")
  .append("path").attr("d", "M0,0L10,5L0,10z").attr("fill", "#000");

panels.forEach((p, pi) => {
  const x = d3.scaleLinear().domain([0, 1]).range([p.left, p.right]);
  const y = d3.scaleLinear().domain(p.yDom).range([p.bottom, p.top]);
  const g = svg.append("g");

  defs.append("clipPath").attr("id", "clip" + pi)
    .append("rect").attr("x", p.left).attr("y", p.top)
    .attr("width", p.right - p.left).attr("height", p.bottom - p.top);

  // tiny nudge so the Z|X and R|M jumps draw as near-vertical steps
  const line = d3.line()
    .x((d, i) => x(kPath[i] + (i === 8 || i === 10 ? 0.0008 : 0)))
    .y(d => y(d))
    .curve(d3.curveMonotoneX);

  g.append("g").attr("clip-path", `url(#clip${pi})`)
    .selectAll("path").data(p.bands).join("path")
    .attr("d", line)
    .attr("fill", "none")
    .attr("stroke", p.color)
    .attr("stroke-width", p.sw);

  // high-symmetry lines
  g.append("g").selectAll("line").data(kTicks.slice(1, -1)).join("line")
    .attr("x1", d => x(d)).attr("x2", d => x(d))
    .attr("y1", p.top).attr("y2", p.bottom)
    .attr("stroke", redLine).attr("stroke-width", 2);

  // Fermi level
  g.append("line")
    .attr("x1", p.left).attr("x2", p.right)
    .attr("y1", y(0)).attr("y2", y(0))
    .attr("stroke", "#000").attr("stroke-width", 2)
    .attr("stroke-dasharray", "9,6");

  // y axis, major and minor ticks
  const majors = d3.range(p.yDom[0], p.yDom[1] + 1, 1);
  const minors = d3.range(p.yDom[0] + 0.5, p.yDom[1], 1);
  g.append("g").attr("transform", `translate(${p.left},0)`)
    .call(d3.axisLeft(y).tickValues(minors).tickSize(3).tickFormat(""))
    .call(a => a.select(".domain").remove())
    .call(a => a.selectAll("line").attr("stroke-width", 1.5));
  g.append("g").attr("transform", `translate(${p.left},0)`)
    .call(d3.axisLeft(y).tickValues(majors).tickSize(6).tickPadding(1).tickFormat(d3.format("d")))
    .call(a => a.select(".domain").remove())
    .call(a => a.selectAll("line").attr("stroke-width", 1.5))
    .call(a => a.selectAll("text").attr("font-size", 18).attr("font-family", null).attr("dy", "0.36em"));

  // x axis
  g.append("g").attr("transform", `translate(0,${p.bottom})`)
    .call(d3.axisBottom(x).tickValues(kTicks).tickSize(5).tickPadding(2).tickFormat((d, i) => kLabels[i]))
    .call(a => a.select(".domain").remove())
    .call(a => a.selectAll("line").attr("stroke", redLine).attr("stroke-width", 2))
    .call(a => a.selectAll("text").attr("font-size", 18).attr("font-family", null)
      .attr("dx", (d, i) => i === kLabels.length - 1 && p.right > 905 ? -3 : 0)
      .style("font-weight", (d, i) => kLabels[i] === "Γ" ? "normal" : "bold"));

  // frame
  g.append("rect")
    .attr("x", p.left).attr("y", p.top)
    .attr("width", p.right - p.left).attr("height", p.bottom - p.top)
    .attr("fill", "none").attr("stroke", "#000").attr("stroke-width", 2);

  // axis titles (the bottom row sits against the page edge)
  const lowRow = p.bottom > 990;
  g.append("text")
    .attr("x", (p.left + p.right) / 2).attr("y", lowRow ? 1031 : p.bottom + 39)
    .attr("text-anchor", "middle").attr("font-size", lowRow ? 16 : 18)
    .text("High Symmetry Points");

  const yl = g.append("text")
    .attr("transform", `translate(${p.left - 41},${(p.top + p.bottom) / 2}) rotate(-90)`)
    .attr("text-anchor", "middle").attr("font-size", 19);
  yl.append("tspan").text("E - E");
  yl.append("tspan").attr("font-size", 12).attr("dy", 4).text("F");
  yl.append("tspan").attr("dy", -4).text(" (eV)");

  g.append("text")
    .attr("x", p.left - 20).attr("y", p.top + 11)
    .attr("text-anchor", "end").attr("font-size", 20)
    .text(p.tag);

  // band gap arrow
  const gx = x(kTicks[3]);
  g.append("line")
    .attr("x1", gx).attr("x2", gx)
    .attr("y1", y(egTop[pi])).attr("y2", y(egBottom[pi]))
    .attr("stroke", "#000").attr("stroke-width", 2)
    .attr("marker-start", "url(#head)").attr("marker-end", "url(#head)");
  const eg = g.append("text")
    .attr("x", gx + 8).attr("y", y(egLabel[pi]))
    .attr("font-size", 17);
  eg.append("tspan").text("E");
  eg.append("tspan").attr("font-size", 11).attr("dy", 5).text("g");

  if (pi === 0) {
    const fx = x(0.484);
    g.append("line")
      .attr("x1", fx).attr("x2", fx)
      .attr("y1", y(-0.42)).attr("y2", y(-0.04))
      .attr("stroke", "#000").attr("stroke-width", 1.2)
      .attr("marker-end", "url(#head)");
    g.append("text")
      .attr("x", x(0.525)).attr("y", y(-0.71))
      .attr("text-anchor", "middle").attr("font-size", 12)
      .text("Fermi-level");
  }
});
</script>
</body>
</html>
